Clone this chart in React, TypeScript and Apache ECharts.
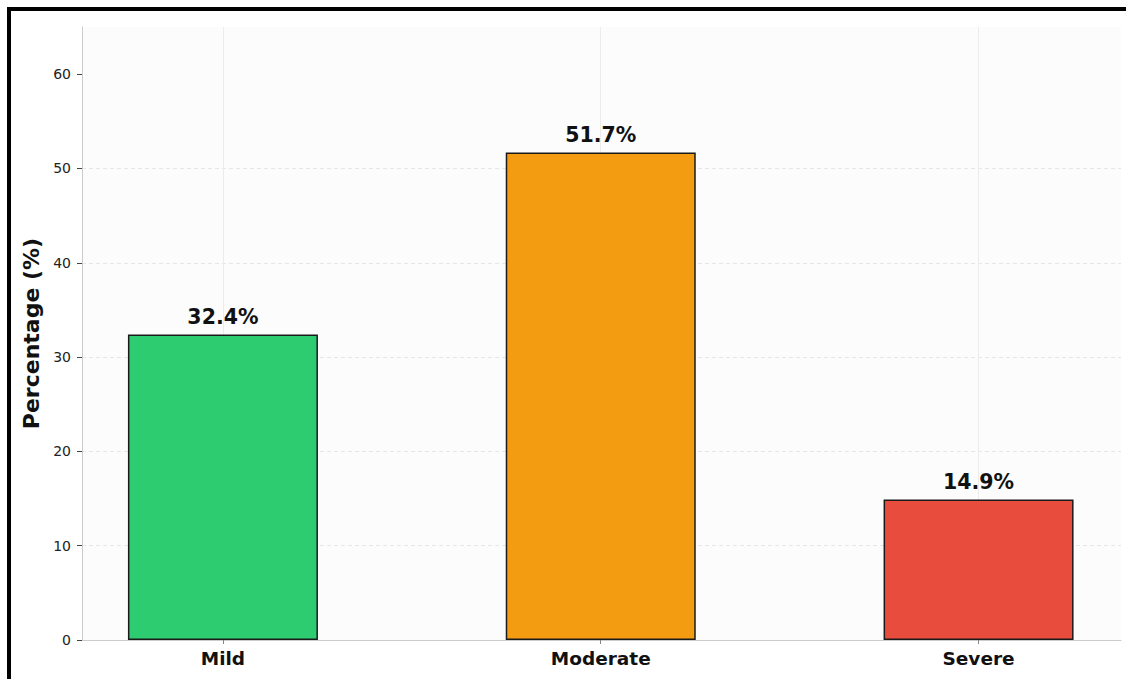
import React, { useEffect, useRef } from "react";
import * as echarts from "echarts";

const categories = ["Mild", "Moderate", "Severe"];
const percentages = [32.4, 51.7, 14.9];
const barColors = ["#2ecc71", "#f39c12", "#e74c3c"];
const yTicks = [0, 10, 20, 30, 40, 50, 60];

export default function App() {
  const ref = useRef<HTMLDivElement>(null);
  useEffect(() => {
    document.body.style.margin = "0";
    const chart = echarts.init(ref.current!, null, { renderer: "svg" });
    const font = "'DejaVu Sans', sans-serif";
    chart.setOption({
      animation: false,
      backgroundColor: "#ffffff",
      grid: {
        left: 82,
        right: 5,
        top: 27,
        bottom: 39,
        show: true,
        backgroundColor: "#fcfcfc",
        borderWidth: 0,
      },
      xAxis: {
        type: "value",
        min: -0.373,
        max: 2.377,
        axisLine: { show: true, onZero: false, lineStyle: { color: "#cccccc", width: 1 } },
        axisTick: {
          show: true,
          customValues: [0, 1, 2],
          length: 4,
          lineStyle: { color: "#888888" },
        },
        axisLabel: {
          customValues: [0, 1, 2],
          formatter: (v: number) => categories[Math.round(v)] ?? "",
          fontFamily: font,
          fontWeight: "bold",
          fontSize: 18.5,
          color: "#111111",
          margin: 9,
        },
        splitLine: { show: false },
      },
      yAxis: {
        type: "value",
        min: 0,
        max: 65,
        interval: 10,
        name: "Percentage (%)",
        nameLocation: "middle",
        nameGap: 39,
        nameRotate: 90,
        nameTextStyle: {
          fontFamily: font,
          fontWeight: "bold",
          fontSize: 22,
          color: "#111111",
        },
        axisLine: { show: true, onZero: false, lineStyle: { color: "#cccccc", width: 1 } },
        axisTick: {
          show: true,
          customValues: yTicks,
          length: 5,
          lineStyle: { color: "#444444" },
        },
        axisLabel: {
          customValues: yTicks,
          fontFamily: font,
          fontSize: 14,
          color: "#222222",
          margin: 11,
        },
        splitLine: {
          show: true,
          showMinLine: false,
          showMaxLine: false,
          lineStyle: { color: "#e6e6e6", type: [4, 3], width: 1 },
        },
      },
      series: [
        {
          type: "line",
          data: [],
          z: 1,
          silent: true,
          markLine: {
            z: 1,
            silent: true,
            symbol: "none",
            label: { show: false },
            lineStyle: { type: "solid", color: "#ececec", width: 1 },
            data: categories.map((_, i) => ({ xAxis: i })),
          },
        },
        {
          type: "bar",
          z: 3,
          barWidth: 190,
          data: percentages.map((v, i) => ({
            value: [i, v],
            itemStyle: {
              color: barColors[i],
              borderColor: "#1a1a1a",
              borderWidth: 1.5,
            },
          })),
          label: {
            show: true,
            position: "top",
            distance: 7,
            formatter: (p: any) => `${p.value[1].toFixed(1)}%`,
            fontFamily: font,
            fontWeight: "bold",
            fontSize: 20.5,
            color: "#111111",
          },
        },
      ],
      graphic: [
        {
          type: "rect",
          shape: { x: 7, y: 7, width: 1119, height: 4 },
          style: { fill: "#000000" },
          silent: true,
        },
        {
          type: "rect",
          shape: { x: 7, y: 7, width: 4, height: 672 },
          style: { fill: "#000000" },
          silent: true,
        },
      ],
    });
    return () => chart.dispose();
  }, []);
  return <div ref={ref} style={{ width: 1126, height: 679 }} />;
}
